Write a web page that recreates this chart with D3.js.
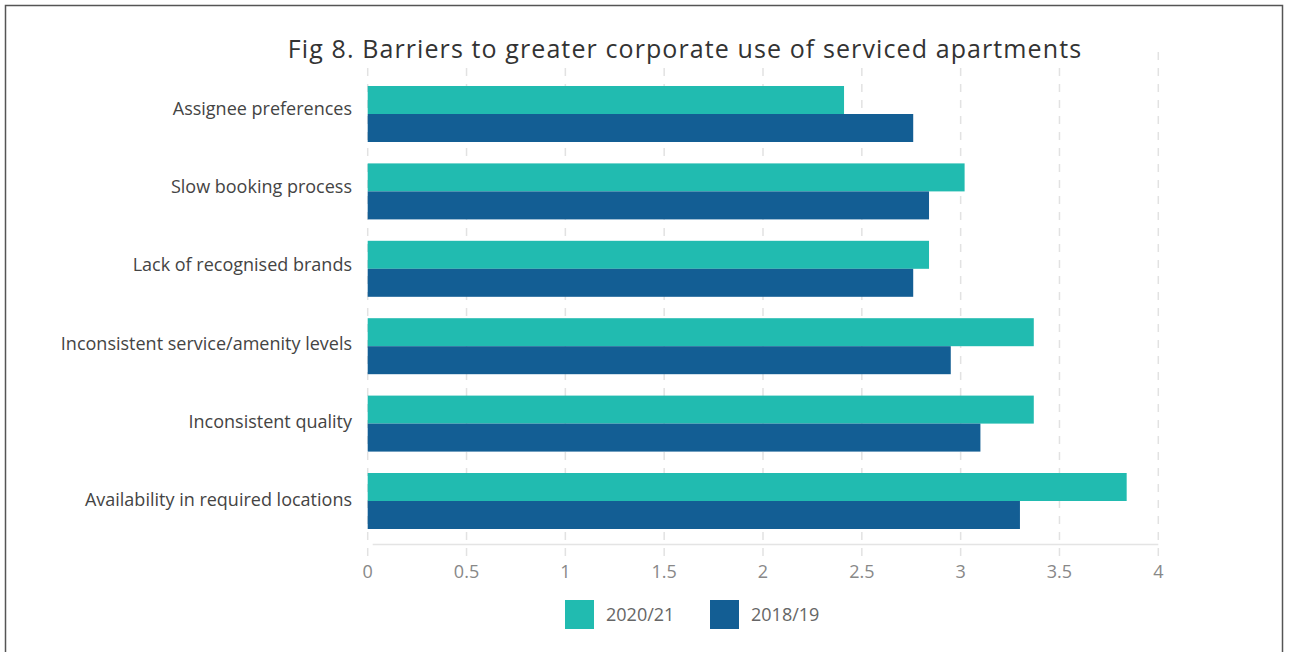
<!DOCTYPE html>
<html>
<head>
<meta charset="utf-8">
<script src="https://cdn.jsdelivr.net/npm/d3@7"></script>
<style>
  html, body { margin: 0; padding: 0; background: #fff; }
  svg { display: block; font-family: "Open Sans", "Lato", sans-serif; }
</style>
</head>
<body>
<svg id="chart" width="1292" height="652"></svg>
<script>
// Survey barriers, mean score per respondent group
const categories = [
  "Assignee preferences",
  "Slow booking process",
  "Lack of recognised brands",
  "Inconsistent service/amenity levels",
  "Inconsistent quality",
  "Availability in required locations"
];
const seriesNames = ["2020/21", "2018/19"];
const values2020 = [2.41, 3.02, 2.84, 3.37, 3.37, 3.84];
const values2018 = [2.76, 2.84, 2.76, 2.95, 3.10, 3.30];
const tickValues = [0, 0.5, 1, 1.5, 2, 2.5, 3, 3.5, 4];
const seriesColors = ["#21bbb0", "#135e94"];

const svg = d3.select("#chart");

// outer frame
svg.append("rect")
  .attr("x", 5.5).attr("y", 5.5)
  .attr("width", 1277).attr("height", 660)
  .attr("fill", "none").attr("stroke", "#555").attr("stroke-width", 1.5);

const x = d3.scaleLinear().domain([0, 4]).range([367.7, 1158.3]);
const y = d3.scaleBand().domain(categories).range([64.6, 550.4]).padding(0.2765);
const ySub = d3.scaleBand().domain(seriesNames).range([0, y.bandwidth()]);
// label baselines sit on a slightly wider pitch than the bar groups
const yLabel = d3.scalePoint().domain(categories).range([115, 506]);

// dashed vertical gridlines
svg.append("g").selectAll("line")
  .data(tickValues).join("line")
  .attr("x1", d => x(d)).attr("x2", d => x(d))
  .attr("y1", 52).attr("y2", 560)
  .attr("stroke", "#e2e2e2").attr("stroke-width", 1.5)
  .attr("stroke-dasharray", "8,8");

// baseline of the value axis
svg.append("line")
  .attr("x1", x(0) + 5).attr("x2", x(4))
  .attr("y1", 544.5).attr("y2", 544.5)
  .attr("stroke", "#e4e4e4").attr("stroke-width", 1.5);

// title with a white backing over the gridlines
const titleG = svg.append("g");
const titleBg = titleG.append("rect").attr("fill", "#fff");
const title = titleG.append("text")
  .attr("x", 685).attr("y", 58)
  .attr("text-anchor", "middle")
  .attr("font-size", 25)
  .attr("letter-spacing", 1.1)
  .attr("fill", "#333")
  .text("Fig 8. Barriers to greater corporate use of serviced apartments");
const tb = title.node().getBBox();
titleBg.attr("x", tb.x).attr("y", 30).attr("width", tb.width).attr("height", 30);

// bars
const groups = svg.append("g").selectAll("g")
  .data(categories).join("g")
  .attr("transform", d => `translate(0,${y(d)})`);

groups.selectAll("rect")
  .data((d, i) => [
    { s: seriesNames[0], v: values2020[i], c: seriesColors[0] },
    { s: seriesNames[1], v: values2018[i], c: seriesColors[1] }
  ])
  .join("rect")
  .attr("x", x(0))
  .attr("y", d => ySub(d.s))
  .attr("width", d => x(d.v) - x(0))
  .attr("height", ySub.bandwidth())
  .attr("fill", d => d.c);

// category labels
svg.append("g").selectAll("text")
  .data(categories).join("text")
  .attr("x", 352)
  .attr("y", d => yLabel(d))
  .attr("text-anchor", "end")
  .attr("font-size", 18)
  .attr("fill", "#444")
  .text(d => d);

// tick labels
svg.append("g").selectAll("text")
  .data(tickValues).join("text")
  .attr("x", d => x(d))
  .attr("y", 578)
  .attr("text-anchor", "middle")
  .attr("font-size", 18)
  .attr("fill", "#888")
  .text(d => d3.format("")(d));

// legend
const legendX = [565, 710];
const legend = svg.append("g").selectAll("g")
  .data(seriesNames).join("g")
  .attr("transform", (d, i) => `translate(${legendX[i]},600)`);
legend.append("rect")
  .attr("width", 29).attr("height", 29)
  .attr("fill", (d, i) => seriesColors[i]);
legend.append("text")
  .attr("x", 41).attr("y", 21)
  .attr("font-size", 18)
  .attr("fill", "#666")
  .text(d => d);
</script>
</body>
</html>
